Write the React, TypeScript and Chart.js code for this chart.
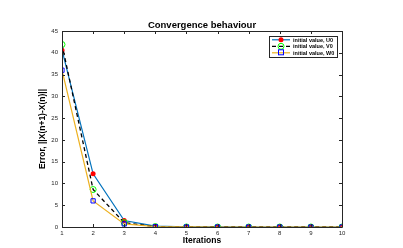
import React, { useEffect, useRef } from "react";
import { Chart, registerables } from "chart.js";

Chart.register(...registerables);

const iterations = [1, 2, 3, 4, 5, 6, 7, 8, 9, 10];
const errorU0 = [40.6, 12.2, 1.5, 0.2, 0.02, 0.01, 0.0, 0.0, 0.0, 0.0];
const errorV0 = [41.9, 8.6, 1.0, 0.1, 0.01, 0.0, 0.0, 0.0, 0.0, 0.0];
const errorW0 = [36.0, 6.0, 0.7, 0.1, 0.01, 0.0, 0.0, 0.0, 0.0, 0.0];
const seriesNames = ["initial value, U0", "initial value, V0", "initial value, W0"];
const yTicks = [0, 5, 10, 15, 20, 25, 30, 35, 40, 45];
const titleText = "Convergence behaviour";
const xTitle = "Iterations";
const yTitle = "Error, ||X(n+1)-X(n)||";

const FONT = "'Liberation Sans', Arial, sans-serif";

const framePlugin = {
  id: "framePlugin",
  afterDraw(chart: any) {
    const { ctx, chartArea, scales } = chart;
    const { left, right, top, bottom } = chartArea;
    ctx.save();
    ctx.strokeStyle = "#262626";
    ctx.lineWidth = 1;
    ctx.beginPath();
    ctx.moveTo(left + 0.5, top + 0.5);
    ctx.lineTo(right + 0.5, top + 0.5);
    ctx.lineTo(right + 0.5, bottom + 0.5);
    ctx.lineTo(left + 0.5, bottom + 0.5);
    ctx.closePath();
    ctx.stroke();
    const tl = 3;
    ctx.beginPath();
    iterations.forEach((v) => {
      const x = Math.round(scales.x.getPixelForValue(v)) + 0.5;
      ctx.moveTo(x, bottom);
      ctx.lineTo(x, bottom - tl);
      ctx.moveTo(x, top);
      ctx.lineTo(x, top + tl);
    });
    yTicks.forEach((v) => {
      const y = Math.round(scales.y.getPixelForValue(v)) + 0.5;
      ctx.moveTo(left, y);
      ctx.lineTo(left + tl, y);
      ctx.moveTo(right, y);
      ctx.lineTo(right - tl, y);
    });
    ctx.stroke();

    ctx.fillStyle = "#000";
    ctx.textAlign = "center";
    ctx.textBaseline = "middle";
    ctx.font = `bold 9.5px ${FONT}`;
    ctx.fillText(titleText, (left + right) / 2, 25);
    ctx.font = `bold 8.5px ${FONT}`;
    ctx.fillText(xTitle, (left + right) / 2, 241);
    ctx.save();
    ctx.translate(43, (top + bottom) / 2);
    ctx.rotate(-Math.PI / 2);
    ctx.fillText(yTitle, 0, 0);
    ctx.restore();

    const bx = 269, by = 36, bw = 68, bh = 21;
    ctx.fillStyle = "#fff";
    ctx.fillRect(bx, by, bw, bh);
    ctx.strokeStyle = "#262626";
    ctx.strokeRect(bx + 0.5, by + 0.5, bw, bh);
    const ds = chart.data.datasets;
    [0, 1, 2].forEach((i) => {
      const d = ds[i];
      const y = 39.8 + i * 6.5;
      ctx.strokeStyle = d.borderColor;
      ctx.lineWidth = d.borderWidth;
      ctx.setLineDash(d.borderDash || []);
      ctx.beginPath();
      ctx.moveTo(272, y);
      ctx.lineTo(290, y);
      ctx.stroke();
      ctx.setLineDash([]);
      ctx.lineWidth = 1;
      const r = d.pointRadius;
      if (d.pointStyle === "rect") {
        ctx.strokeStyle = d.pointBorderColor;
        ctx.strokeRect(281 - r + 0.5, y - r, 2 * r - 1, 2 * r - 1);
      } else {
        ctx.beginPath();
        ctx.arc(281, y, r, 0, Math.PI * 2);
        if (d.pointBackgroundColor !== "rgba(0,0,0,0)") {
          ctx.fillStyle = d.pointBackgroundColor;
          ctx.fill();
        } else {
          ctx.strokeStyle = d.pointBorderColor;
          ctx.stroke();
        }
      }
      ctx.fillStyle = "#000";
      ctx.textAlign = "left";
      ctx.font = `bold 5.5px ${FONT}`;
      ctx.fillText(seriesNames[i], 293, y + 0.3);
    });
    ctx.restore();
  },
};

export default function App() {
  const ref = useRef<HTMLCanvasElement>(null);
  useEffect(() => {
    document.body.style.margin = "0";
    const chart = new Chart(ref.current!, {
      type: "line",
      data: {
        datasets: [
          {
            label: seriesNames[0],
            data: iterations.map((x, i) => ({ x, y: errorU0[i] })),
            borderColor: "#0072BD",
            borderWidth: 1.2,
            pointStyle: "circle",
            pointRadius: 2.5,
            pointBackgroundColor: "#FF0000",
            pointBorderColor: "#FF0000",
            pointBorderWidth: 0,
            order: 2,
          },
          {
            label: seriesNames[1],
            data: iterations.map((x, i) => ({ x, y: errorV0[i] })),
            borderColor: "#000000",
            borderWidth: 1.3,
            borderDash: [4, 3],
            pointStyle: "circle",
            pointRadius: 3,
            pointBackgroundColor: "rgba(0,0,0,0)",
            pointBorderColor: "#00FF00",
            pointBorderWidth: 1,
            order: 1,
          },
          {
            label: seriesNames[2],
            data: iterations.map((x, i) => ({ x, y: errorW0[i] })),
            borderColor: "#EDB120",
            borderWidth: 1.2,
            pointStyle: "rect",
            pointRadius: 3,
            pointBackgroundColor: "rgba(0,0,0,0)",
            pointBorderColor: "#0000FF",
            pointBorderWidth: 1,
            order: 0,
          },
        ],
      },
      options: {
        animation: false,
        responsive: false,
        maintainAspectRatio: false,
        layout: { padding: { left: 0, right: 61, top: 31, bottom: 0 } },
        plugins: { legend: { display: false }, tooltip: { enabled: false }, title: { display: false } },
        scales: {
          x: {
            type: "linear",
            min: 1,
            max: 10,
            grid: { display: false, drawTicks: false, tickLength: 0 },
            border: { display: false },
            ticks: {
              stepSize: 1,
              padding: 3,
              color: "#262626",
              font: { family: FONT, size: 6 },
            },
            afterFit: (axis: any) => {
              axis.height = 21;
            },
          },
          y: {
            min: 0,
            max: 45,
            grid: { display: false, drawTicks: false, tickLength: 0 },
            border: { display: false },
            ticks: {
              stepSize: 5,
              padding: 4,
              color: "#262626",
              font: { family: FONT, size: 6 },
            },
            afterFit: (axis: any) => {
              axis.width = 62;
            },
          },
        },
      },
      plugins: [framePlugin],
    });
    return () => chart.destroy();
  }, []);
  return (
    <div style={{ width: 403, height: 248, background: "#fff" }}>
      <canvas ref={ref} width={403} height={248} style={{ width: 403, height: 248 }} />
    </div>
  );
}
